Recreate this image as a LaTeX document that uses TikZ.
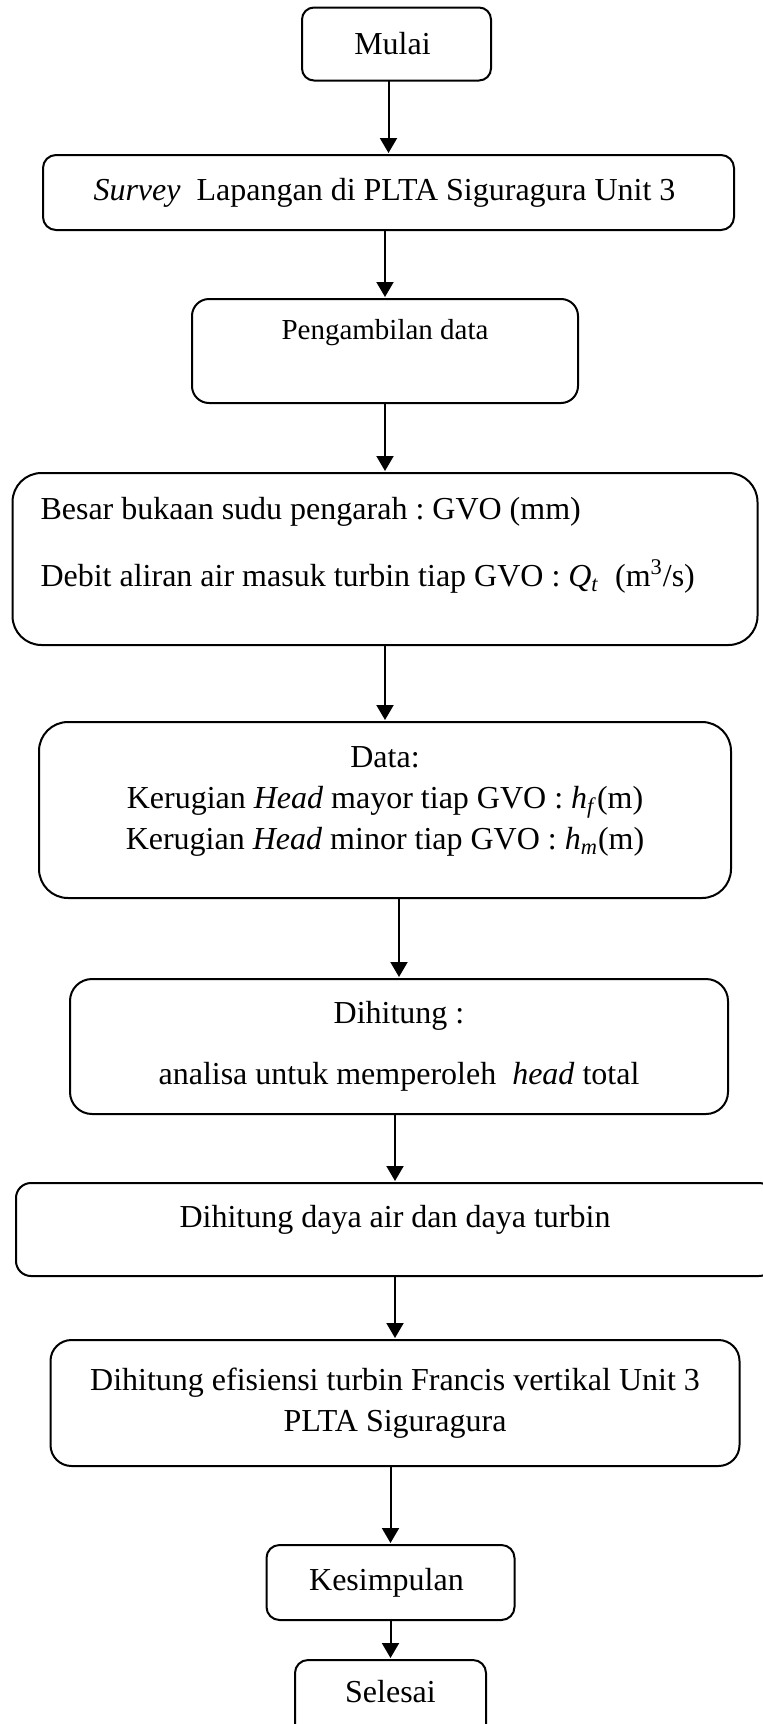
\documentclass[tikz,border=0pt]{standalone}
\usepackage{fontspec}
\setmainfont{Liberation Serif}
\usetikzlibrary{positioning,arrows.meta}
\frenchspacing

\begin{document}
\begin{tikzpicture}[->, >={Triangle[width=8.5pt,length=7.5pt]}, shorten >=1pt, line width=1pt,
    font=\fontsize{16}{20.5}\selectfont,
    blok/.style={draw, rectangle, rounded corners=#1, inner sep=0pt, outer sep=0pt, align=center},
    blok/.default=6pt,
    kiri/.style={blok=#1, align=flush left, inner xsep=14pt}]

    \useasboundingbox[-] (0,0) rectangle (381.5pt,-862pt);

    \node[blok=6pt, minimum width=94.5pt, minimum height=36.5pt] (Mulai) at (198.25pt,-22pt)
    { Mulai };
    
    \node[blok=6.5pt, below=37.25pt of Mulai, xshift=-4pt,
          minimum width=345.5pt, minimum height=37.5pt] (Survey)
    { \textit{Survey}\ \ Lapangan di PLTA Siguragura Unit 3 };
    
    \node[blok=8.5pt, below=34.5pt of Survey, xshift=-1.75pt,
          minimum width=193pt, minimum height=52pt,
          font=\fontsize{14.5}{18.5}\selectfont] (Ambil)
    { Pengambilan data\\[3pt]\mbox{} };
    
    \node[kiri=14.5pt, below=35pt of Ambil, text width=344.5pt, minimum height=86pt] (GVO)
    { Besar bukaan sudu pengarah : GVO (mm)\\[13pt]
      Debit aliran air masuk turbin tiap GVO : \textit{Q}\textsubscript{\textit{t}}\ \ (m\textsuperscript{3}/s)\\[-3.5pt]\mbox{} };

    % ---------------------------------------------------------
    
    \node[blok=14.5pt, below=38.5pt of GVO, minimum width=346pt, minimum height=88pt] (Data)
    { Data:\\
      Kerugian \textit{Head} mayor tiap GVO : \textit{h}\textsubscript{\textit{f}}(m)\\
      Kerugian \textit{Head} minor tiap GVO : \textit{h}\textsubscript{\textit{m}}(m)\\[-8.5pt]\mbox{} };
    
    \node[blok=11pt, below=40.5pt of Data, xshift=7pt,
          minimum width=329pt, minimum height=67.5pt] (Head)
    { Dihitung :\\[10pt]
      analisa untuk memperoleh\ \ \textit{head} total };
    
    \node[blok=7.5pt, below=34.5pt of Head, xshift=-2pt,
          minimum width=379pt, minimum height=46.5pt] (Daya)
    { Dihitung daya air dan daya turbin\\[-7.5pt]\mbox{} };
    
    \node[blok=10.5pt, below=32pt of Daya, minimum width=344.5pt, minimum height=63pt] (Efisiensi)
    { Dihitung efisiensi turbin Francis vertikal Unit 3\\
      PLTA Siguragura };
    
    \node[blok=6.5pt, below=39.5pt of Efisiensi, xshift=-2.25pt,
          minimum width=124pt, minimum height=37.5pt] (Simpul)
    { Kesimpulan };
    
    \node[blok=6.5pt, below=20pt of Simpul, minimum width=95.5pt, minimum height=40pt] (Selesai)
    { Selesai\\[-11.5pt]\mbox{} };
    
    \path[]
    {
        (Mulai.south -| Survey) edge (Survey)
        (Survey.south -| Ambil) edge (Ambil)
        (Ambil.south -| GVO) edge (GVO)
        (GVO.south -| Data) edge (Data)
        
        % --------------------------------------------------
        
        (Data.south -| Head) edge (Head)
        (Head.south -| Daya) edge (Daya)
        (Daya.south -| Efisiensi) edge (Efisiensi)
        (Efisiensi.south -| Simpul) edge (Simpul)
        (Simpul.south -| Selesai) edge (Selesai)
    };
\end{tikzpicture}
\end{document}
